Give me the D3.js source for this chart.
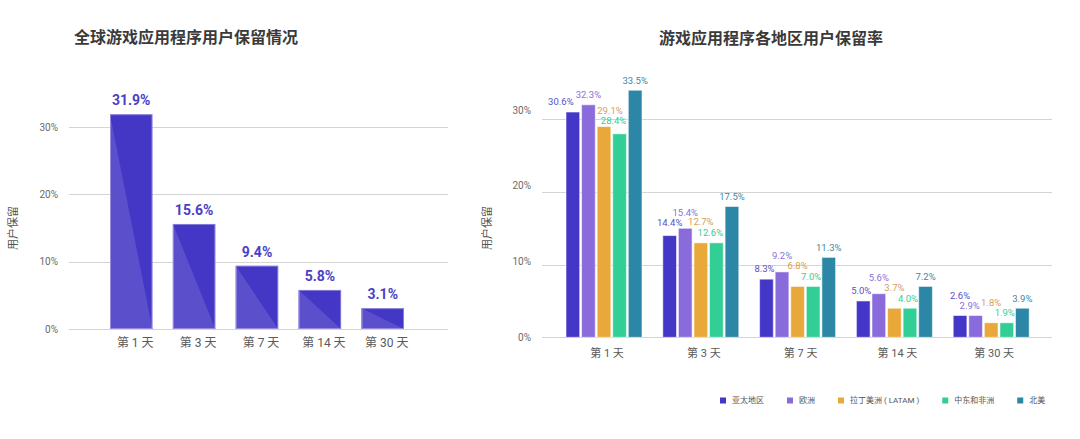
<!DOCTYPE html>
<html>
<head>
<meta charset="utf-8">
<script src="https://cdn.jsdelivr.net/npm/d3@7"></script>
<style>
  html, body { margin: 0; padding: 0; background: #fff; }
  svg { display: block; font-family: Roboto, "Noto Sans CJK SC", sans-serif; }
</style>
</head>
<body>
<svg id="chart" width="1080" height="439"></svg>
<script>
// ---------- data ----------
const categories = ["第 1 天", "第 3 天", "第 7 天", "第 14 天", "第 30 天"];
const globalRetention = [31.9, 15.6, 9.4, 5.8, 3.1];
const regions = ["亚太地区", "欧洲", "拉丁美洲 ( LATAM )", "中东和非洲", "北美"];
const apac = [30.6, 14.4, 8.3, 5.0, 2.6];
const europe = [32.3, 15.4, 9.2, 5.6, 2.9];
const latam = [29.1, 12.7, 6.8, 3.7, 1.8];
const mea = [28.4, 12.6, 7.0, 4.0, 1.9];
const northAmerica = [33.5, 17.5, 11.3, 7.2, 3.9];
const yTicks = [0, 10, 20, 30];
const leftTitle = "全球游戏应用程序用户保留情况";
const rightTitle = "游戏应用程序各地区用户保留率";
const axisTitle = "用户保留";

const seriesValues = [apac, europe, latam, mea, northAmerica];
const seriesColors = ["#4437c7", "#8a6bdb", "#e9a93a", "#31cf95", "#2c86a6"];
const labelColors = ["#5a50c2", "#8a72d6", "#d5a056", "#3ccb93", "#3b8aa8"];
const pct = v => v.toFixed(1) + "%";

const svg = d3.select("#chart");
const cjk = "'Noto Sans CJK SC', sans-serif";

// ================= LEFT CHART =================
{
  const g = svg.append("g");
  const y = d3.scaleLinear().domain([0, 30]).range([329, 127]);
  const x = d3.scaleBand().domain(categories).range([110, 404]).paddingInner(0.325).paddingOuter(0);
  const gridX0 = 69, gridX1 = 448;

  g.append("text").attr("x", 74).attr("y", 37).attr("dy", "0.35em")
    .attr("font-family", cjk).attr("font-weight", "bold").attr("font-size", 16)
    .attr("fill", "#3a3a3a").text(leftTitle);

  g.selectAll("line.grid").data(yTicks).join("line")
    .attr("x1", gridX0).attr("x2", gridX1)
    .attr("y1", d => Math.round(y(d)) + 0.5).attr("y2", d => Math.round(y(d)) + 0.5)
    .attr("stroke", "#d4d4d4").attr("stroke-width", 1);

  const ya = g.append("g").attr("transform", "translate(58,0)")
    .call(d3.axisLeft(y).tickValues(yTicks).tickSize(0).tickPadding(0).tickFormat(d => d + "%"));
  ya.select(".domain").remove();
  ya.selectAll("text").attr("font-size", 10).attr("fill", "#6a6a6a").attr("font-family", "Roboto, sans-serif");

  const xa = g.append("g").attr("transform", "translate(4,339)")
    .call(d3.axisBottom(x).tickSize(0).tickPadding(0));
  xa.select(".domain").remove();
  xa.selectAll("text").attr("font-size", 12).attr("fill", "#5a5a5a")
    .attr("font-family", "Roboto, 'Noto Sans CJK SC', sans-serif").attr("dy", "0.7em");

  g.append("text").attr("transform", "translate(13,228) rotate(-90)")
    .attr("text-anchor", "middle").attr("dy", "0.35em")
    .attr("font-family", cjk).attr("font-size", 11).attr("fill", "#555").text(axisTitle);

  const bars = g.selectAll("g.bar").data(categories).join("g").attr("class", "bar");
  bars.append("rect")
    .attr("x", (d) => x(d)).attr("width", x.bandwidth())
    .attr("y", (d, i) => y(globalRetention[i]))
    .attr("height", (d, i) => y(0) - y(globalRetention[i]))
    .attr("fill", "#4537c6");
  bars.append("path")
    .attr("d", (d, i) => {
      const x0 = x(d), x1 = x(d) + x.bandwidth(), t = y(globalRetention[i]), b = y(0);
      return `M${x0},${t}L${x0},${b}L${x1},${b}Z`;
    })
    .attr("fill", "#5b4fcc");
  bars.append("rect")
    .attr("x", (d) => x(d) + 0.5).attr("width", x.bandwidth() - 1)
    .attr("y", (d, i) => y(globalRetention[i]) + 0.5)
    .attr("height", (d, i) => y(0) - y(globalRetention[i]) - 1)
    .attr("fill", "none").attr("stroke", "#ffffff").attr("stroke-opacity", 0.35);
  bars.append("text")
    .attr("x", d => x(d) + x.bandwidth() / 2)
    .attr("y", (d, i) => y(globalRetention[i]) - 14)
    .attr("dy", "0.35em").attr("text-anchor", "middle")
    .attr("font-size", 14).attr("font-weight", "bold").attr("fill", "#4a3fc6")
    .text((d, i) => pct(globalRetention[i]));
}

// ================= RIGHT CHART =================
{
  const g = svg.append("g");
  const y = d3.scaleLinear().domain([0, 30]).range([337.3, 119.3]);
  const yLab = d3.scaleLinear().domain([0, 30]).range([337, 110]);
  const x0 = d3.scaleBand().domain(categories).range([555.6, 1039.6]).paddingInner(0.215).paddingOuter(0.1075);
  const x1 = d3.scaleBand().domain(regions).range([0, x0.bandwidth()]).paddingInner(0.12).paddingOuter(0);
  const gridX0 = 542, gridX1 = 1052;

  g.append("text").attr("x", 771).attr("y", 38).attr("dy", "0.35em").attr("text-anchor", "middle")
    .attr("font-family", cjk).attr("font-weight", "bold").attr("font-size", 16)
    .attr("fill", "#3a3a3a").text(rightTitle);

  g.selectAll("line.grid").data(yTicks).join("line")
    .attr("x1", gridX0).attr("x2", gridX1)
    .attr("y1", d => Math.round(y(d)) + 0.5).attr("y2", d => Math.round(y(d)) + 0.5)
    .attr("stroke", "#d4d4d4").attr("stroke-width", 1);

  const ya = g.append("g").attr("transform", "translate(531,0)")
    .call(d3.axisLeft(yLab).tickValues(yTicks).tickSize(0).tickPadding(0).tickFormat(d => d + "%"));
  ya.select(".domain").remove();
  ya.selectAll("text").attr("font-size", 10).attr("fill", "#6a6a6a").attr("font-family", "Roboto, sans-serif");

  const xa = g.append("g").attr("transform", "translate(3,349)")
    .call(d3.axisBottom(x0).tickSize(0).tickPadding(0));
  xa.select(".domain").remove();
  xa.selectAll("text").attr("font-size", 11).attr("fill", "#5a5a5a")
    .attr("font-family", "Roboto, 'Noto Sans CJK SC', sans-serif").attr("dy", "0.7em");

  g.append("text").attr("transform", "translate(487,228) rotate(-90)")
    .attr("text-anchor", "middle").attr("dy", "0.35em")
    .attr("font-family", cjk).attr("font-size", 11).attr("fill", "#555").text(axisTitle);

  // bars (drawn at whole-percent heights as in the reference)
  const groups = g.selectAll("g.grp").data(categories).join("g").attr("class", "grp")
    .attr("transform", d => `translate(${x0(d)},0)`);
  groups.each(function (cat, ci) {
    const gg = d3.select(this);
    const barInfo = regions.map((r, si) => {
      const v = seriesValues[si][ci];
      const h = Math.round(v);
      return { r, si, v, top: y(h), x: x1(r), w: x1.bandwidth() };
    });
    gg.selectAll("rect").data(barInfo).join("rect")
      .attr("x", d => d.x).attr("width", d => d.w)
      .attr("y", d => d.top).attr("height", d => y(0) - d.top)
      .attr("fill", d => seriesColors[d.si])
      .attr("stroke", "#ffffff").attr("stroke-opacity", 0.55).attr("stroke-width", 1);

    // labels with simple collision avoidance (right to left)
    const texts = gg.selectAll("text.val").data(barInfo).join("text").attr("class", "val")
      .attr("text-anchor", "middle").attr("dy", "0.35em")
      .attr("font-size", 9.5).attr("fill", d => labelColors[d.si])
      .text(d => pct(d.v));
    const widths = [];
    texts.each(function (d) { widths[d.si] = this.getComputedTextLength(); });
    const placed = [];
    const H = 9;
    const cands = [];
    const dxs = [0, -2, 2, -4, 4, -6, 6, -8, 8, -10, 10, -12, 12];
    for (const dx of dxs) for (let dy = 0; dy >= -26; dy--) cands.push({ dx, dy, c: Math.abs(dx) + Math.abs(dy) });
    cands.sort((a, b) => a.c - b.c);
    const pos = [];
    for (let k = barInfo.length - 1; k >= 0; k--) {
      const b = barInfo[k];
      const w = widths[k];
      const cx0 = b.x + b.w / 2, cy0 = b.top - 10;
      let best = { dx: 0, dy: 0 };
      for (const c of cands) {
        const l = cx0 + c.dx - w / 2, r = cx0 + c.dx + w / 2;
        const t = cy0 + c.dy - H / 2, bt = cy0 + c.dy + H / 2;
        let ok = true;
        for (const p of placed) {
          if (l < p.r + 0.5 && r > p.l - 0.5 && t < p.b + 0.5 && bt > p.t - 0.5) { ok = false; break; }
        }
        if (ok) for (const o of barInfo) {
          if (l < o.x + o.w && r > o.x && bt > o.top - 1) { ok = false; break; }
        }
        if (ok) { best = c; break; }
      }
      const cx = cx0 + best.dx, cy = cy0 + best.dy;
      placed.push({ l: cx - w / 2, r: cx + w / 2, t: cy - H / 2, b: cy + H / 2 });
      pos[k] = { cx, cy };
    }
    texts.attr("x", d => pos[d.si].cx).attr("y", d => pos[d.si].cy);
  });

  // legend
  const lg = g.append("g").attr("transform", "translate(720,400.5)");
  let lx = 0;
  regions.forEach((r, i) => {
    const item = lg.append("g").attr("transform", `translate(${lx},0)`);
    item.append("rect").attr("x", 0).attr("y", -3).attr("width", 6).attr("height", 6).attr("fill", seriesColors[i]);
    const t = item.append("text").attr("x", 12).attr("dy", "0.35em")
      .attr("font-size", 8).attr("fill", "#555")
      .attr("font-family", "Roboto, 'Noto Sans CJK SC', sans-serif").text(r);
    lx += 12 + t.node().getComputedTextLength() + 23;
  });
}
</script>
</body>
</html>
